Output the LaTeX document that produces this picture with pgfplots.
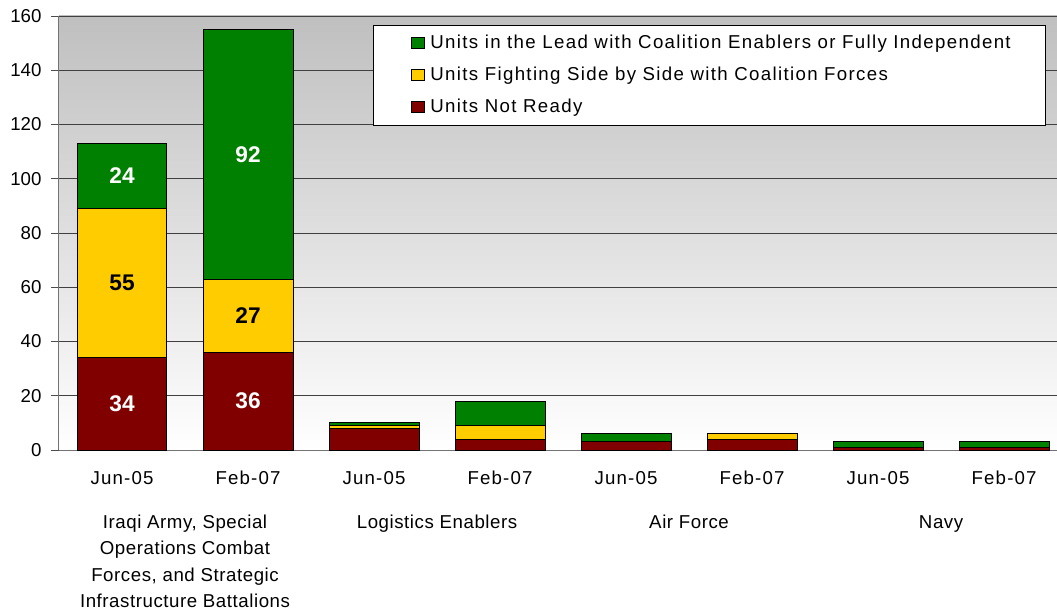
\documentclass[border=0pt]{standalone}
\usepackage{fontspec}
\setmainfont{Liberation Sans}
\newfontfamily\spaced[LetterSpace=6.3]{Liberation Sans}
\newfontfamily\spacedl[LetterSpace=7.2]{Liberation Sans}
\newfontfamily\spacedg[LetterSpace=3]{Liberation Sans}
\usepackage{pgfplots}
\pgfplotsset{compat=1.18}
\definecolor{lead}{HTML}{008000}
\definecolor{side}{HTML}{FFCC00}
\definecolor{notready}{HTML}{800000}

\begin{document}
\begin{tikzpicture}
\useasboundingbox (-44.25pt,-123pt) rectangle (748.5pt,337.5pt);
\begin{axis}[
  at={(0,0)}, anchor=south west,
  scale only axis, width=748.5pt, height=325.5pt,
  ybar stacked, bar width=0.714,
  xmin=-0.5, xmax=7.42, ymin=0, ymax=160,
  clip=false,
  axis x line=bottom, axis y line=left,
  axis line style={-, draw=black!55, line width=0.75pt},
  axis background/.style={top color=black!25, bottom color=white},
  ytick={0,20,...,160},
  ymajorgrids, grid style={black!75, line width=0.6pt},
  tick align=outside, major tick length=6pt,
  ytick style={draw=black!70, line width=0.6pt},
  xtick={0,...,7},
  xticklabels={Jun-05,Feb-07,Jun-05,Feb-07,Jun-05,Feb-07,Jun-05,Feb-07},
  xtick style={draw=none},
  extra x ticks={-0.5,1.5,3.5,5.5},
  extra x tick labels={},
  extra x tick style={major tick length=123pt, tick style={draw=black!55, line width=0.75pt}},
  /pgf/number format/assume math mode=true,
  yticklabel style={font=\fontsize{14}{16}\selectfont, inner sep=0pt, xshift=-7pt},
  xticklabel style={font=\spaced\fontsize{14}{17}\selectfont, anchor=base, inner sep=0pt, yshift=-20pt},
  legend style={at={(0.315,0.9786)}, anchor=north west, draw=black, fill=white,
    font=\spacedl\fontsize{14}{16}\selectfont, inner xsep=28pt, inner ysep=6.5pt,
    row sep=10pt, column sep=4.5pt,
    nodes={inner sep=0pt, text height=10.5pt, text depth=3.5pt}},
  legend cell align=left, reverse legend,
  legend image code/.code={\draw[#1, draw=black, line width=0.6pt] (0pt,-3.95pt) rectangle (9.45pt,4.55pt);},
]
\addplot[fill=notready, draw=black, line width=0.75pt] coordinates
  {(0,34)(1,36)(2,8)(3,4)(4,3)(5,4)(6,1)(7,1)};
\addplot[fill=side, draw=black, line width=0.75pt] coordinates
  {(0,55)(1,27)(2,1)(3,5)(4,0)(5,2)(6,0)(7,0)};
\addplot[fill=lead, draw=black, line width=0.75pt] coordinates
  {(0,24)(1,92)(2,1)(3,9)(4,3)(5,0)(6,2)(7,2)};
\legend{Units Not Ready, Units Fighting Side by Side with Coalition Forces,
  \makebox[433pt][l]{Units in the Lead with Coalition Enablers or Fully Independent}}

% anchor points for the segment labels (middle of each segment)
\coordinate (a1) at (axis cs:0,17);
\coordinate (a2) at (axis cs:0,61.5);
\coordinate (a3) at (axis cs:0,101);
\coordinate (b1) at (axis cs:1,18);
\coordinate (b2) at (axis cs:1,49.5);
\coordinate (b3) at (axis cs:1,109);

% group names
\node[font=\spacedg\fontsize{14}{19.7}\selectfont, align=center, anchor=base, yshift=-118.1pt] at (axis cs:0.5,0)
  {Iraqi Army, Special\\Operations Combat\\Forces, and Strategic\\Infrastructure Battalions};
\node[font=\spacedg\fontsize{14}{19.7}\selectfont, anchor=base, yshift=-59pt] at (axis cs:2.5,0) {Logistics Enablers};
\node[font=\spacedg\fontsize{14}{19.7}\selectfont, anchor=base, yshift=-59pt] at (axis cs:4.5,0) {Air Force};
\node[font=\spacedg\fontsize{14}{19.7}\selectfont, anchor=base, yshift=-59pt] at (axis cs:6.5,0) {Navy};
\end{axis}
\begin{scope}[every node/.style={font=\bfseries\fontsize{17}{20}\selectfont}]
\node[text=white] at (a1) {34};
\node[text=black] at (a2) {55};
\node[text=white] at (a3) {24};
\node[text=white] at (b1) {36};
\node[text=black] at (b2) {27};
\node[text=white] at (b3) {92};
\end{scope}
\end{tikzpicture}
\end{document}
